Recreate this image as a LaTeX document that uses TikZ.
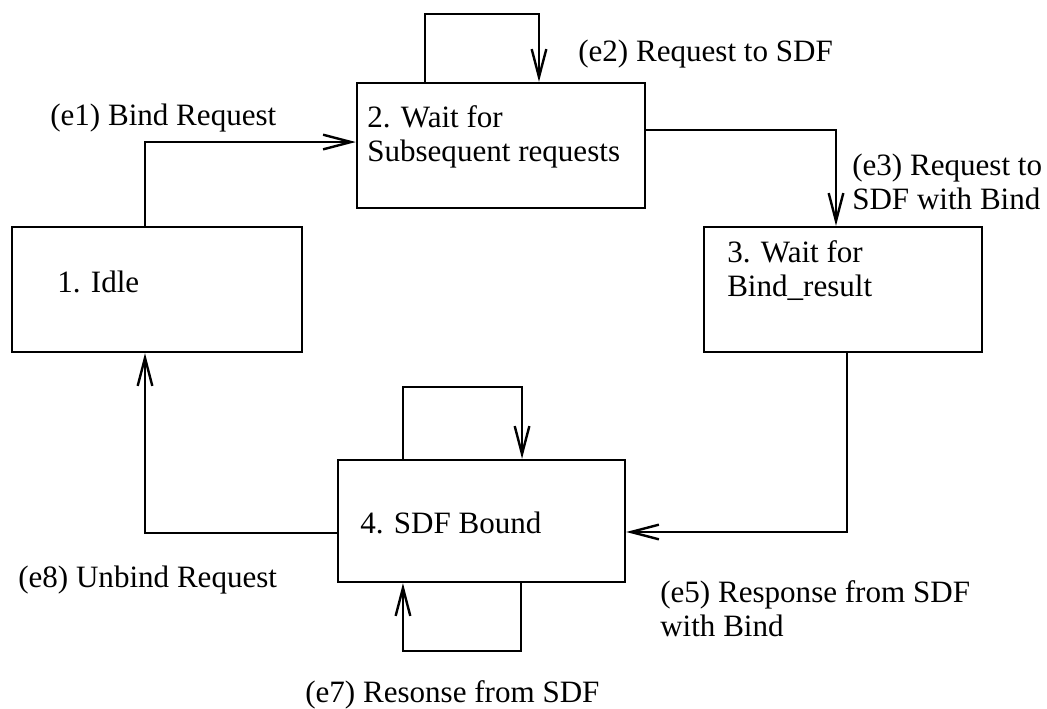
\documentclass[tikz,border=0pt]{standalone}
\usepackage{fontspec}
\setmainfont{Liberation Serif}
\usetikzlibrary{arrows.meta,positioning,calc}

\tikzset{
  state/.style={draw, line width=1.8pt, inner sep=0pt},
  tr/.style={line width=1.8pt, -{Straight Barb[length=21pt,width=11pt]}},
  lbl/.style={anchor=base west, inner sep=0pt, align=left,
    font=\fontsize{23.3}{25.5}\selectfont},
}

\begin{document}
\begin{tikzpicture}[x=0.75pt, y=-0.75pt]
    \useasboundingbox (0,0) rectangle (1047,709);

    % States
    \node[state, minimum width=217.5pt, minimum height=93.75pt] (idle) at (157,289.5) {};
    \node[state, minimum width=216pt, minimum height=93.75pt] (waitsub) at (501,145.5) {};
    \node[state, minimum width=208.5pt, minimum height=93.75pt] (waitbind) at (843,289.5) {};
    \node[state, minimum width=215.25pt, minimum height=91.5pt] (bound) at (481.5,521) {};

    % (base of a two-line label is its last line)
    \node[lbl] (idletxt) at (57,293) {1. Idle};
    \node[lbl] (waitsubtxt) at (367,162) {2. Wait for\\Subsequent requests};
    \node[lbl] (waitbindtxt) at (727,297) {3. Wait for\\Bind\_result};
    \node[lbl] (boundtxt) at (360,533) {4. SDF Bound};

    % Transitions
    \draw[tr] ([xshift=-9pt]idle.north) |- ([yshift=2.6pt]waitsub.west);
    \draw[tr] ([xshift=-57pt]waitsub.north) -- ++(0,51pt) -| ([xshift=28.5pt]waitsub.north);
    \draw[tr] ([yshift=11.6pt]waitsub.east) -| ([xshift=-5.25pt]waitbind.north);
    \draw[tr] ([xshift=3pt]waitbind.south) |- ([yshift=-8.25pt]bound.east);
    \draw[tr] ([xshift=-58.9pt]bound.north) -- ++(0,54pt) -| ([xshift=30.4pt]bound.north);
    \draw[tr] ([xshift=29.6pt]bound.south) -- ++(0,-51pt) -| ([xshift=-58.9pt]bound.south);
    \draw[tr] ([yshift=-9pt]bound.west) -| ([xshift=-9pt]idle.south);

    % Event labels
    \node[lbl] (e1) at (50,126) {(e1) Bind Request};
    \node[lbl] (e2) at (578,62) {(e2) Request to SDF};
    \node[lbl] (e3) at (852,210) {(e3) Request to\\SDF with Bind};
    \node[lbl] (e5) at (660,636) {(e5) Response from SDF\\with Bind};
    \node[lbl] (e7) at (305,702) {(e7) Resonse from SDF};
    \node[lbl] (e8) at (18,587) {(e8) Unbind Request};
\end{tikzpicture}
\end{document}
